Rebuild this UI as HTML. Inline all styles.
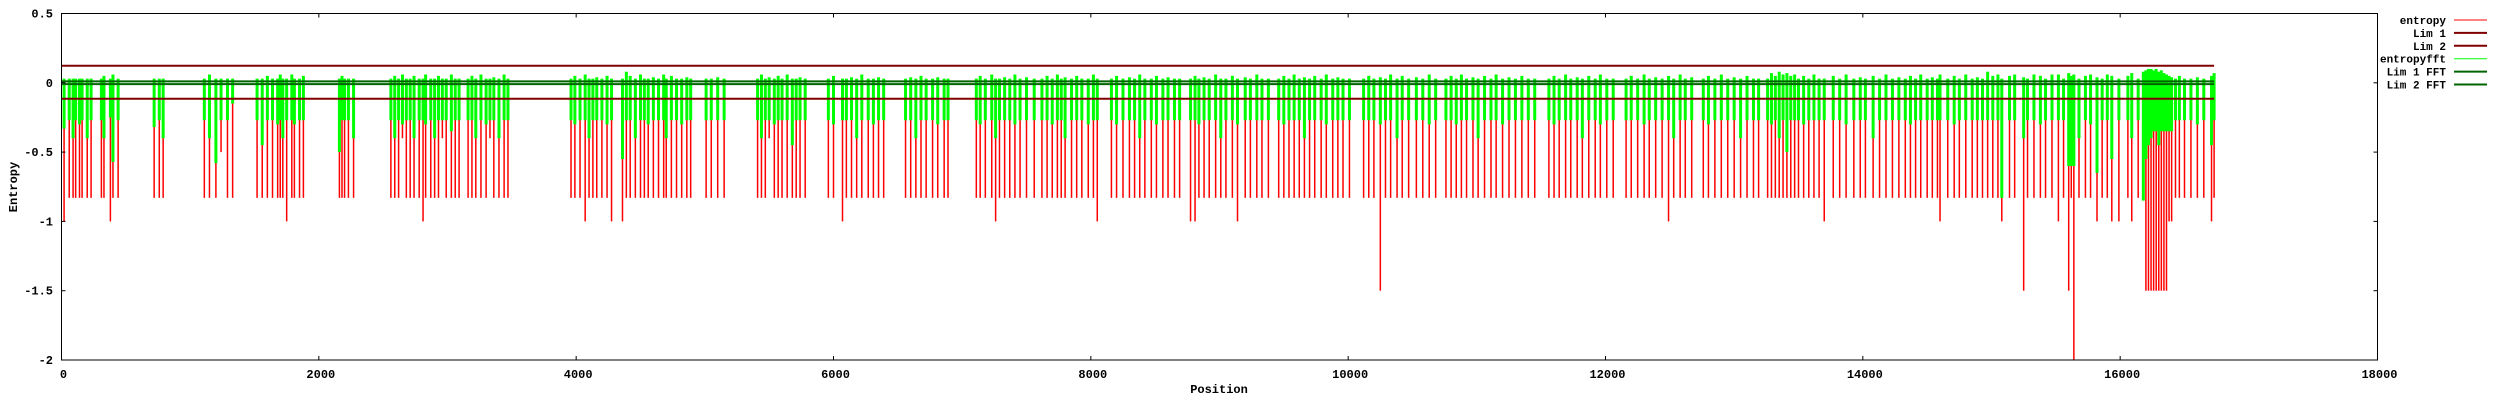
<!DOCTYPE html>
<html><head><meta charset="utf-8"><style>
html,body{margin:0;padding:0;background:#fff;}
svg text{font-family:"Liberation Mono",monospace;font-weight:bold;fill:#000;}
</style></head><body>
<svg id="chart" width="2500" height="400" xmlns="http://www.w3.org/2000/svg">
<g id="marks"></g>
<g id="axes"></g>
<g id="legend"></g>
</svg>
<script>
const redPos = [
20,60,90,110,140,160,200,230,
310,330,380,400,440,
720,760,790,
1110,1150,1200,1240,1290,1330,
1520,1560,1600,1640,1680,1700,1720,1750,1790,1810,1850,1880,
2160,2180,2200,2230,2270,
2560,2590,2620,2650,2680,2710,2740,2780,2810,2830,2870,2900,2930,2960,2990,3030,3060,3090,
3160,3190,3220,3260,3300,3330,3360,3400,3440,3470,
3960,3990,4030,4070,4100,4130,4160,4200,4240,4275,
4360,4390,4420,4460,4500,4530,4560,4600,4640,4680,4700,4740,4780,4820,4860,4890,
5010,5050,5100,5150,
5410,5440,5470,5500,5540,5570,5600,5640,5680,5710,5740,5780,
5960,6000,6070,6100,6140,6180,6220,6270,6310,6350,6390,
6560,6600,6640,6680,6720,6770,6810,6860,6890,
7110,7140,7180,7230,7260,7290,7330,7370,7410,7450,7500,7560,
7620,7660,7700,7740,7770,7800,7850,7890,7930,7980,8020,8050,
8160,8200,8250,8300,8340,8380,8420,8470,8510,8560,8600,8650,8690,
8775,8810,8840,8880,8920,8970,9010,9050,9100,9140,9200,9240,9290,9330,9380,
9460,9500,9540,9580,9620,9660,9700,9740,9790,9830,9880,9920,9960,10010,
10120,10160,10200,10250,10290,10330,10380,10420,10470,10530,10580,10630,10680,
10760,10800,10840,10880,10920,10970,11010,11060,11110,11150,11200,11250,11300,11350,11400,11450,
11560,11600,11640,11690,11730,11780,11820,11870,11920,11960,12010,12060,
12160,12200,12250,12300,12340,12390,12440,12490,12530,12580,12620,12670,
12760,12800,12850,12900,12950,13000,13050,13100,13150,13190,
13260,13290,13320,13350,13380,13410,13440,13470,13500,13540,13580,13620,13660,
13700,13770,13820,13870,13930,13980,14020,14080,14130,14180,14230,14280,
14330,14370,14410,14450,14500,14540,14580,14600,14660,14710,14750,14800,14850,14890,
14930,14970,15010,15050,15080,15140,15180,15250,15280,15330,15380,15420,15470,
15520,15560,15600,15620,15640,15680,15730,15770,15820,15860,15900,15935,15990,
16060,16090,16140,16180,16200,16220,16240,16260,16280,16300,16320,16340,16360,16380,16400,16430,16460,16500,16550,16600,16650,16710,16730
];
const redVal = [
-1,-.83,-.83,-.83,-.83,-.83,-.83,-.83,
-.83,-.83,-1,-.83,-.83,
-.83,-.83,-.83,
-.83,-.83,-.83,-.5,-.83,-.83,
-.83,-.83,-.83,-.83,-.83,-.83,-.83,-1,-.83,-.83,-.83,-.83,
-.83,-.83,-.83,-.83,-.83,
-.83,-.83,-.83,-.4,-.83,-.83,-.83,-.83,-1,-.83,-.83,-.83,-.83,-.4,-.83,-.83,-.83,-.83,
-.83,-.83,-.83,-.83,-.83,-.4,-.83,-.83,-.83,-.83,
-.83,-.83,-.83,-1,-.83,-.83,-.83,-.83,-.83,-1,
-1,-.83,-.83,-.83,-.83,-.83,-.83,-.83,-.83,-.83,-.83,-.83,-.83,-.83,-.83,-.83,
-.83,-.83,-.83,-.83,
-.83,-.83,-.83,-.4,-.83,-.83,-.83,-.83,-.83,-.83,-.83,-.83,
-.83,-.83,-1,-.83,-.83,-.83,-.83,-.83,-.83,-.83,-.83,
-.83,-.83,-.83,-.83,-.83,-.83,-.83,-.83,-.83,
-.83,-.83,-.83,-.83,-1,-.83,-.83,-.83,-.83,-.83,-.83,-.83,
-.83,-.83,-.83,-.83,-.83,-.83,-.83,-.83,-.83,-.83,-.83,-1,
-.83,-.83,-.83,-.83,-.83,-.83,-.83,-.83,-.83,-.83,-.83,-.83,-.83,
-1,-1,-.83,-.83,-.83,-.83,-.83,-.83,-.83,-1,-.83,-.83,-.83,-.83,-.83,
-.83,-.83,-.83,-.83,-.83,-.83,-.83,-.83,-.83,-.83,-.83,-.83,-.83,-.83,
-.83,-.83,-.83,-1.5,-.83,-.83,-.83,-.83,-.83,-.83,-.83,-.83,-.83,
-.83,-.83,-.83,-.83,-.83,-.83,-.83,-.83,-.83,-.83,-.83,-.83,-.83,-.83,-.83,-.83,
-.83,-.83,-.83,-.83,-.83,-.83,-.83,-.83,-.83,-.83,-.83,-.83,
-.83,-.83,-.83,-.83,-.83,-.83,-.83,-1,-.83,-.83,-.83,-.83,
-.83,-.83,-.83,-.83,-.83,-.83,-.83,-.83,-.83,-.83,
-.83,-.83,-.83,-.83,-.83,-.83,-.83,-.83,-.83,-.83,-.83,-.83,-.83,
-1,-.83,-.83,-.83,-.83,-.83,-.83,-.83,-.83,-.83,-.83,-.83,
-.83,-.83,-.83,-.83,-.83,-.83,-.83,-1,-.83,-.83,-.83,-.83,-.83,-.83,
-.83,-.83,-.83,-.83,-1,-.83,-.83,-1.5,-.83,-.83,-.83,-.83,-.83,
-1,-.83,-1.5,-.83,-2,-.83,-.83,-.83,-1,-.83,-.83,-1,-1,
-.83,-1,-.83,-.83,-1.5,-1.5,-1.5,-1.5,-1.5,-1.5,-1.5,-1.5,-1.5,-1,-1,-.83,-.83,-.83,-.83,-.83,-.83,-1,-.83
];
const greenLo = [
-.33,-.27,-.4,-.27,-.3,-.27,-.4,-.27,
-.27,-.4,-.25,-.57,-.27,
-.32,-.27,-.4,
-.27,-.4,-.58,-.27,-.27,-.15,
-.27,-.45,-.27,-.27,-.3,-.27,-.4,-.27,-.27,-.3,-.27,-.27,
-.5,-.27,-.27,-.27,-.4,
-.27,-.4,-.27,-.3,-.27,-.27,-.4,-.27,-.27,-.3,-.27,-.4,-.27,-.27,-.27,-.35,-.27,-.27,
-.27,-.27,-.4,-.27,-.3,-.27,-.27,-.4,-.27,-.27,
-.27,-.3,-.27,-.27,-.4,-.27,-.27,-.27,-.3,-.27,
-.55,-.27,-.27,-.4,-.27,-.27,-.3,-.27,-.27,-.27,-.4,-.27,-.27,-.3,-.27,-.27,
-.27,-.27,-.27,-.27,
-.27,-.4,-.27,-.27,-.3,-.27,-.27,-.27,-.45,-.27,-.27,-.27,
-.27,-.3,-.27,-.27,-.27,-.4,-.27,-.27,-.3,-.27,-.27,
-.27,-.27,-.4,-.27,-.27,-.27,-.3,-.27,-.27,
-.27,-.3,-.27,-.27,-.4,-.27,-.27,-.27,-.3,-.27,-.27,-.27,
-.27,-.27,-.3,-.27,-.27,-.4,-.27,-.27,-.27,-.3,-.27,-.27,
-.27,-.3,-.27,-.27,-.27,-.4,-.27,-.27,-.3,-.27,-.27,-.27,-.27,
-.27,-.27,-.3,-.27,-.27,-.27,-.4,-.27,-.27,-.3,-.27,-.27,-.27,-.27,-.27,
-.27,-.3,-.27,-.27,-.27,-.4,-.27,-.27,-.27,-.3,-.27,-.27,-.27,-.27,
-.27,-.27,-.27,-.3,-.27,-.27,-.4,-.27,-.27,-.27,-.27,-.3,-.27,
-.27,-.27,-.3,-.27,-.27,-.27,-.4,-.27,-.27,-.27,-.3,-.27,-.27,-.27,-.27,-.27,
-.27,-.3,-.27,-.27,-.27,-.27,-.4,-.27,-.27,-.3,-.27,-.27,
-.27,-.27,-.27,-.3,-.27,-.27,-.27,-.27,-.4,-.27,-.27,-.27,
-.27,-.3,-.27,-.27,-.27,-.27,-.4,-.27,-.27,-.27,
-.27,-.3,-.27,-.4,-.27,-.5,-.27,-.27,-.27,-.3,-.27,-.27,-.27,
-.27,-.27,-.27,-.3,-.27,-.27,-.27,-.4,-.27,-.27,-.27,-.27,
-.27,-.3,-.27,-.27,-.27,-.27,-.27,-.27,-.27,-.3,-.27,-.27,-.27,-.27,
-.27,-.27,-.27,-.27,-.83,-.27,-.27,-.4,-.27,-.27,-.3,-.27,-.27,
-.27,-.27,-.6,-.6,-.6,-.4,-.27,-.3,-.65,-.27,-.27,-.55,-.27,
-.27,-.4,-.27,-.85,-.55,-.45,-.4,-.35,-.35,-.45,-.35,-.35,-.35,-.35,-.35,-.27,-.27,-.27,-.27,-.3,-.27,-.45,-.27
];
const greenHi = [
.03,.03,.03,.03,.03,.03,.03,.03,
.03,.05,.03,.06,.03,
.03,.03,.03,
.03,.06,.03,.03,.03,.03,
.03,.03,.05,.03,.03,.06,.03,.03,.06,.03,.03,.05,
.03,.05,.03,.03,.03,
.03,.05,.03,.06,.03,.03,.05,.03,.03,.06,.03,.03,.05,.03,.03,.06,.03,.03,
.03,.05,.03,.06,.03,.03,.04,.03,.06,.03,
.03,.05,.03,.06,.03,.03,.04,.03,.05,.03,
.03,.08,.05,.03,.06,.03,.03,.04,.03,.06,.03,.05,.03,.03,.04,.03,
.03,.03,.04,.03,
.03,.06,.03,.04,.03,.05,.03,.06,.03,.03,.04,.03,
.03,.05,.03,.03,.04,.03,.06,.03,.03,.04,.03,
.03,.04,.03,.05,.03,.03,.04,.03,.03,
.03,.05,.03,.06,.03,.03,.04,.03,.06,.03,.04,.03,
.03,.05,.03,.06,.03,.04,.03,.05,.03,.03,.06,.03,
.03,.05,.03,.04,.03,.06,.03,.03,.05,.03,.04,.03,.03,
.03,.05,.03,.04,.03,.06,.03,.03,.05,.03,.04,.03,.06,.03,.03,
.03,.05,.03,.06,.03,.04,.03,.05,.03,.06,.03,.04,.03,.03,
.03,.05,.03,.04,.03,.06,.03,.05,.03,.04,.03,.06,.03,
.03,.05,.03,.06,.03,.04,.03,.05,.03,.06,.03,.04,.03,.05,.03,.03,
.03,.05,.03,.06,.03,.04,.03,.05,.03,.06,.03,.03,
.03,.05,.03,.06,.03,.04,.03,.05,.03,.06,.03,.04,
.03,.05,.03,.06,.03,.04,.03,.05,.03,.03,
.03,.07,.05,.08,.06,.07,.05,.06,.03,.05,.03,.06,.03,
.03,.05,.03,.06,.03,.04,.03,.05,.03,.06,.03,.04,
.03,.05,.03,.06,.03,.04,.03,.06,.03,.05,.03,.06,.03,.04,
.03,.08,.05,.06,.03,.05,.06,.04,.03,.06,.05,.03,.06,
.06,.03,.07,.05,.06,.03,.05,.06,.04,.03,.06,.05,.03,
.05,.07,.03,.08,.09,.1,.1,.09,.1,.08,.09,.07,.06,.05,.04,.03,.05,.03,.03,.04,.03,.05,.07
];
const yTicks = [0.5, 0, -0.5, -1, -1.5, -2];
const yTickLabels = ["0.5", "0", "-0.5", "-1", "-1.5", "-2"];
const xTicks = [0, 2000, 4000, 6000, 8000, 10000, 12000, 14000, 16000, 18000];
const limVals = [0.123, -0.115];
const limFftVals = [0.01, -0.01];
const legendLabels = ["entropy", "Lim 1", "Lim 2", "entropyfft", "Lim 1 FFT", "Lim 2 FFT"];

const L = 61.5, R = 2377.5, T = 13.5, B = 360;
const xMin = 0, xMax = 18000, yMin = -2, yMax = 0.5;
const xs = v => L + (v - xMin) / (xMax - xMin) * (R - L);
const ys = v => B - (v - yMin) / (yMax - yMin) * (B - T);
const NS = "http://www.w3.org/2000/svg";
function mk(tag, attrs, parent) {
  const e = document.createElementNS(NS, tag);
  for (const k in attrs) e.setAttribute(k, attrs[k]);
  parent.appendChild(e);
  return e;
}
const marks = document.getElementById('marks');
const axes = document.getElementById('axes');
const legend = document.getElementById('legend');

redPos.forEach((p, i) => {
  const v = redVal[i] !== undefined ? redVal[i] : -0.83;
  const y0 = ys(0), y1 = ys(v);
  const r = mk('rect', {x: xs(p) - 0.75, y: Math.min(y0, y1), width: 1.5, height: Math.abs(y1 - y0), fill: '#ff0000'}, marks);
  
  
});
redPos.forEach((p, i) => {
  const lo = greenLo[i] !== undefined ? greenLo[i] : -0.27;
  const hi = greenHi[i] !== undefined ? greenHi[i] : 0.03;
  const y0 = ys(hi), y1 = ys(lo);
  const r = mk('rect', {x: xs(p) - 1.5, y: y0, width: 3, height: y1 - y0, fill: '#00ff00'}, marks);
  
  
});
const dataEnd = redPos[redPos.length - 1];
limVals.forEach(v => {
  const l = mk('line', {x1: L, x2: xs(dataEnd), y1: ys(v), y2: ys(v), stroke: '#800000', 'stroke-width': 2}, marks);
  
  
});
limFftVals.forEach(v => {
  const l = mk('line', {x1: L, x2: xs(dataEnd), y1: ys(v), y2: ys(v), stroke: '#006400', 'stroke-width': 2}, marks);
  
  
});

const fr = mk('rect', {x: L, y: T, width: R - L, height: B - T, fill: 'none', stroke: '#000', 'stroke-width': 1}, axes);


yTicks.forEach((v, i) => {
  const y = ys(v);
  mk('line', {x1: L, x2: L + 4, y1: y, y2: y, stroke: '#000'}, axes);
  mk('line', {x1: R, x2: R - 4, y1: y, y2: y, stroke: '#000'}, axes);
  const t = mk('text', {x: 53, y: y + 4, 'text-anchor': 'end', 'font-size': 12}, axes);
  t.textContent = yTickLabels[i];
  
  
});
xTicks.forEach(v => {
  const x = xs(v);
  mk('line', {x1: x, x2: x, y1: B, y2: B - 4, stroke: '#000'}, axes);
  mk('line', {x1: x, x2: x, y1: T, y2: T + 4, stroke: '#000'}, axes);
  const t = mk('text', {x: x + 2, y: 378, 'text-anchor': 'middle', 'font-size': 12}, axes);
  t.textContent = String(v);
  
  
});
const xt = mk('text', {x: 1219, y: 393, 'text-anchor': 'middle', 'font-size': 12}, axes);
xt.textContent = 'Position';


const yt = mk('text', {x: 0, y: 0, 'text-anchor': 'middle', 'font-size': 12, transform: 'translate(17,187) rotate(-90)'}, axes);
yt.textContent = 'Entropy';



const legColors = ['#ff0000', '#800000', '#800000', '#00ff00', '#006400', '#006400'];
const legWidths = [1, 2, 2, 1, 2, 2];
legendLabels.forEach((lab, i) => {
  const y = 20 + i * 12.9;
  const g = mk('g', {}, legend);
  
  
  const t = mk('text', {x: 2446, y: y + 4, 'text-anchor': 'end', 'font-size': 11}, g);
  t.textContent = lab;
  mk('line', {x1: 2454, x2: 2487, y1: y, y2: y, stroke: legColors[i], 'stroke-width': legWidths[i]}, g);
});
</script>
</body></html>
